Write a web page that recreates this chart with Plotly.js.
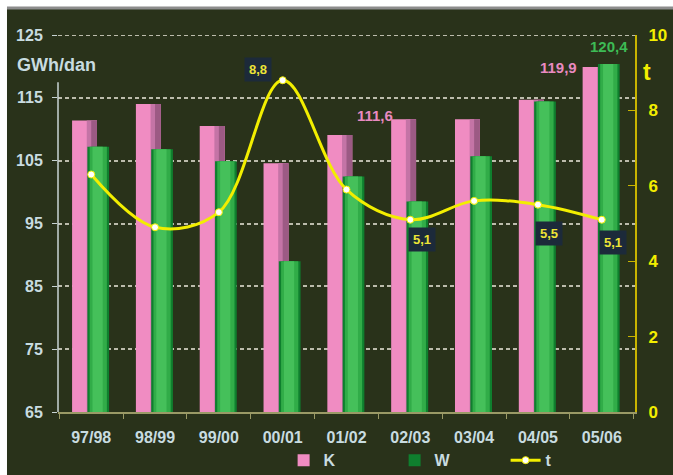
<!DOCTYPE html>
<html>
<head>
<meta charset="utf-8">
<script src="https://cdn.plot.ly/plotly-3.0.1.min.js"></script>
<style>
  html, body { margin: 0; padding: 0; background: #fff; }
  #chart { width: 673px; height: 475px; }
</style>
</head>
<body>
<div id="chart"></div>
<script>
// heating seasons
const seasons = ['97/98', '98/99', '99/00', '00/01', '01/02', '02/03', '03/04', '04/05', '05/06'];
// GWh/dan
const kValues = [111.4, 114.0, 110.5, 104.6, 109.1, 111.6, 111.6, 114.7, 119.9];
const wValues = [107.2, 106.8, 104.9, 89.0, 102.5, 98.5, 105.7, 114.4, 120.4];
// t (right axis)
const tValues = [6.3, 4.9, 5.3, 8.8, 5.9, 5.1, 5.6, 5.5, 5.1];

const yRange = [65, 125];
const bg = '#29321a';
const fam = '"Liberation Sans", Arial, sans-serif';
const gridDash = '4px,3px';
const fmt = v => v.toFixed(1).replace('.', ',');

function font(size, color) {
  return { family: fam, size: size, color: color, weight: 'bold' };
}

// K bars: pink with a darker right side
const kBar = {
  x: seasons, y: kValues, name: 'K', type: 'bar',
  offset: -0.30, width: 0.39,
  marker: { color: '#f08cc2', line: { width: 0 } },
  hoverinfo: 'y'
};
const kShade = {
  x: seasons, y: kValues, type: 'bar', showlegend: false, hoverinfo: 'skip',
  offset: -0.07, width: 0.16,
  marker: { color: '#c474a6', line: { width: 0 } }
};
const kShade2 = {
  x: seasons, y: kValues, type: 'bar', showlegend: false, hoverinfo: 'skip',
  offset: 0.0, width: 0.09,
  marker: { color: '#9c5a84', line: { width: 0 } }
};

// W bars: dark green edges, lighter middle
const wBar = {
  x: seasons, y: wValues, name: 'W', type: 'bar',
  offset: -0.06, width: 0.34,
  marker: { color: '#0f7f2e', line: { width: 0 } },
  hoverinfo: 'y'
};
const wInner = {
  x: seasons, y: wValues, type: 'bar', showlegend: false, hoverinfo: 'skip',
  offset: -0.025, width: 0.27,
  marker: { color: '#31ac48', line: { width: 0 } }
};
const wCore = {
  x: seasons, y: wValues, type: 'bar', showlegend: false, hoverinfo: 'skip',
  offset: 0.02, width: 0.16,
  marker: { color: '#45c05a', line: { width: 0 } }
};

const tLine = {
  x: seasons, y: tValues, name: 't', type: 'scatter', mode: 'lines+markers',
  yaxis: 'y2',
  line: { color: '#f2ee00', width: 3, shape: 'spline', smoothing: 1 },
  marker: { color: '#ffffff', size: 7, line: { color: '#f2ee00', width: 1 } }
};

// labelled t points and where their boxes sit
const tLabels = [
  { i: 3, ax: -25, ay: -11 },
  { i: 5, ax: 12, ay: 20 },
  { i: 7, ax: 11, ay: 29 },
  { i: 8, ax: 11, ay: 23 }
];

const annotations = tLabels.map(l => ({
  x: seasons[l.i], y: tValues[l.i], xref: 'x', yref: 'y2',
  text: fmt(tValues[l.i]),
  showarrow: true, arrowcolor: 'rgba(0,0,0,0)', ax: l.ax, ay: l.ay,
  bgcolor: '#1c2a3a', borderpad: 4,
  font: font(13, '#ece436')
}));

annotations.push(
  { x: seasons[5], y: kValues[5], xref: 'x', yref: 'y', text: fmt(kValues[5]),
    showarrow: false, xanchor: 'right', yanchor: 'middle', xshift: -15, yshift: 4,
    font: font(15, '#e98ac0') },
  { x: seasons[8], y: kValues[8], xref: 'x', yref: 'y', text: fmt(kValues[8]),
    showarrow: false, xanchor: 'right', yanchor: 'middle', xshift: -23, yshift: 0,
    font: font(15, '#e98ac0') },
  { x: seasons[8], y: wValues[8], xref: 'x', yref: 'y', text: fmt(wValues[8]),
    showarrow: false, xanchor: 'center', yanchor: 'middle', xshift: 7, yshift: 17,
    font: font(15, '#3dbb55') },
  { x: -0.0745, y: 0.92, xref: 'paper', yref: 'paper', text: 'GWh/dan',
    showarrow: false, xanchor: 'left', yanchor: 'middle',
    font: font(18, '#c8dce0') },
  { x: 1.01, y: 0.902, xref: 'paper', yref: 'paper', text: 't',
    showarrow: false, xanchor: 'left', yanchor: 'middle',
    font: font(23, '#f2ee00') }
);

const layout = {
  width: 673, height: 475,
  margin: { l: 58, r: 38, t: 35, b: 63, autoexpand: false },
  paper_bgcolor: '#ffffff',
  plot_bgcolor: 'rgba(0,0,0,0)',
  barmode: 'overlay',
  showlegend: true,
  legend: {
    orientation: 'h', x: 0.391, xanchor: 'left', y: -0.128, yanchor: 'middle',
    entrywidth: 66, entrywidthmode: 'pixels',
    bgcolor: 'rgba(0,0,0,0)', font: font(16, '#c8dce0')
  },
  xaxis: {
    type: 'category',
    tickson: 'boundaries', ticks: 'outside', ticklen: 5, tickcolor: '#9a9a66',
    showline: true, linecolor: '#9a9a66', linewidth: 2,
    showgrid: false, zeroline: false,
    tickfont: font(16, '#c8dce0'), ticklabelstandoff: 10
  },
  yaxis: {
    range: yRange, tick0: 65, dtick: 10,
    showgrid: true, gridcolor: '#bcbcac', griddash: gridDash, gridwidth: 2,
    ticks: 'outside', ticklen: 5, tickcolor: '#c8d4d4',
    showline: false, zeroline: false,
    tickfont: font(16, '#c8dce0'), ticklabelstandoff: 6
  },
  yaxis2: {
    overlaying: 'y', side: 'right',
    range: [0, 10], tick0: 0, dtick: 2,
    showgrid: false, zeroline: false,
    showline: true, linecolor: '#c8b400', linewidth: 2,
    ticks: 'inside', ticklen: 7, tickcolor: '#c8b400',
    tickfont: font(17, '#f2ee00'), ticklabelstandoff: 8
  },
  shapes: [
    // dark frame behind everything
    { type: 'rect', xref: 'paper', yref: 'paper', layer: 'below',
      x0: -0.0884, x1: 1.1, y0: -0.2, y1: 1.0716,
      fillcolor: bg, line: { width: 0 } },
    { type: 'line', xref: 'paper', yref: 'paper', layer: 'below',
      x0: -0.0884, x1: 1.1, y0: 1.0716, y1: 1.0716,
      line: { color: '#8c8c8c', width: 3 } },
    // top gridline (plotly drops grid at the range edge)
    { type: 'line', xref: 'paper', yref: 'y', layer: 'below',
      x0: 0, x1: 1, y0: yRange[1], y1: yRange[1],
      line: { color: '#bcbcac', width: 2, dash: gridDash } },
    // left axis line stops below the unit label
    { type: 'line', xref: 'paper', yref: 'y', layer: 'above',
      x0: 0, x1: 0, y0: 65, y1: 117.5,
      line: { color: '#c8d4d4', width: 1.5 } }
  ],
  annotations: annotations
};

Plotly.newPlot('chart', [kBar, kShade, kShade2, wBar, wInner, wCore, tLine], layout, { displayModeBar: false, staticPlot: true });
</script>
</body>
</html>
